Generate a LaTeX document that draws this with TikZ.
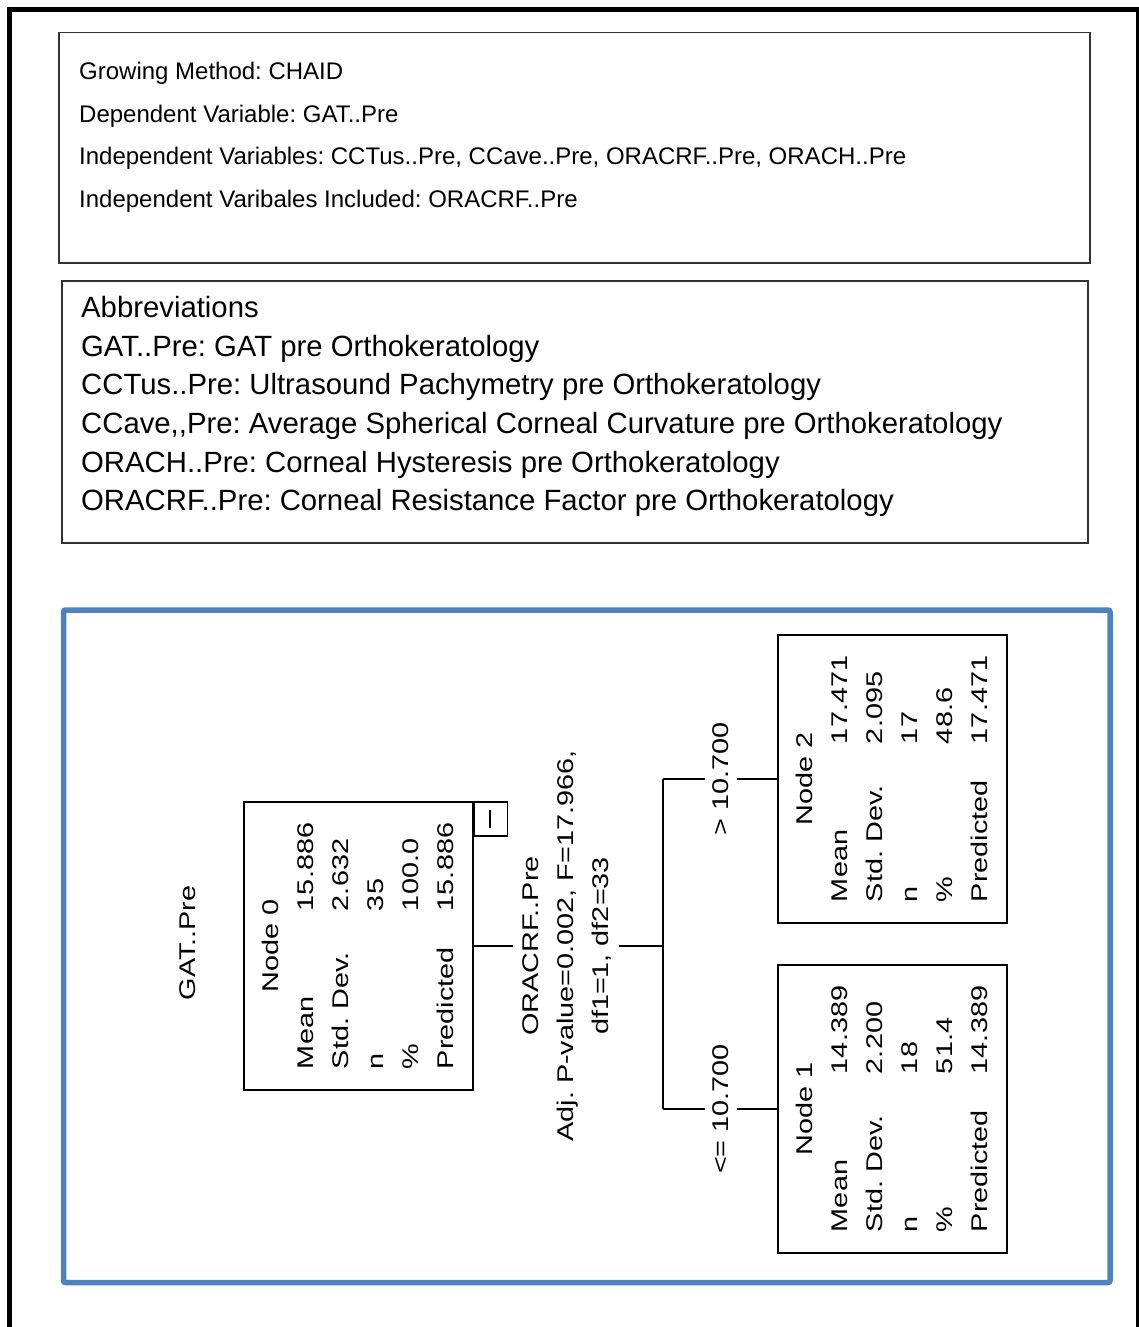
\documentclass[tikz,border=0pt]{standalone}
\usepackage{fontspec}
\setmainfont{Liberation Sans}
\newfontfamily\treefont[FakeStretch=1.27]{Liberation Sans}
\definecolor{frameblue}{RGB}{79,129,189}
\frenchspacing

% statistics block of a tree node: title, mean, sd, n, percent
\newcommand{\treestats}[5]{\rotatebox{90}{\begin{tabular}{@{}p{158pt}@{}p{88pt}@{}}
\multicolumn{2}{c}{#1}\\
Mean & #2\\
Std. Dev. & #3\\
n & #4\\
\% & #5\\
Predicted & #2
\end{tabular}}}

\tikzset{
  infobox/.style={draw=black!80, line width=1.5pt, anchor=north west, inner sep=0pt},
  infotext/.style={anchor=base west, inner sep=0pt, font=\fontsize{24}{28}\selectfont},
  abbrtext/.style={anchor=base west, inner sep=0pt, font=\fontsize{29.3}{34}\selectfont},
  treetext/.style={inner sep=0pt, font=\treefont\fontsize{22.7}{35}\selectfont},
  treebox/.style={treetext, draw, line width=1.5pt, minimum width=229pt, minimum height=288pt},
  branch/.style={line width=1.5pt},
}

\begin{document}
\begin{tikzpicture}[x=1pt, y=-1pt]
\useasboundingbox (0,0) rectangle (1139,1327);

% outer frame, open at the foot of the page
\begin{scope}
  \clip (0,0) rectangle (1139,1327);
  \draw[line width=5pt] (9.5,9.5) rectangle (1138.5,1400);
\end{scope}

% model summary
\node[infobox, minimum width=1031pt, minimum height=230pt] (info) at (58,32) {};
\node[infotext] (i1) at (79,80) {Growing Method: CHAID};
\node[infotext] (i2) at (79,122) {Dependent Variable: GAT..Pre};
\node[infotext] (i3) at (79,164.5) {Independent Variables: CCTus..Pre, CCave..Pre, ORACRF..Pre, ORACH..Pre};
\node[infotext] (i4) at (79,207) {Independent Varibales Included: ORACRF..Pre};

% abbreviations
\node[infobox, minimum width=1026pt, minimum height=262pt] (abbr) at (61,280) {};
\node[abbrtext] (a1) at (81,317) {Abbreviations};
\node[abbrtext] (a2) at (81,356) {GAT..Pre: GAT pre Orthokeratology};
\node[abbrtext] (a3) at (81,394.5) {CCTus..Pre: Ultrasound Pachymetry pre Orthokeratology};
\node[abbrtext] (a4) at (81,433) {CCave{,}{,}Pre: Average Spherical Corneal Curvature pre Orthokeratology};
\node[abbrtext] (a5) at (81,472) {ORACH..Pre: Corneal Hysteresis pre Orthokeratology};
\node[abbrtext] (a6) at (81,510.5) {ORACRF..Pre: Corneal Resistance Factor pre Orthokeratology};

% tree panel
\draw[frameblue, line width=5.5pt, rounded corners=2pt] (63.5,610) rectangle (1110,1282.5);

\node[treetext] (dep) at (188,943) {\rotatebox{90}{GAT..Pre}};

\node[treebox] (n0) at (358.5,946) {\treestats{Node 0}{15.886}{2.632}{35}{100.0}};
\node[treebox] (n2) at (892.5,779) {\treestats{Node 2}{17.471}{2.095}{17}{48.6}};
\node[treebox] (n1) at (892.5,1109) {\treestats{Node 1}{14.389}{2.200}{18}{51.4}};

% collapse toggle of the root node
\node[draw, line width=1.5pt, minimum width=33pt, minimum height=34pt, anchor=north west, inner sep=0pt] (toggle) at (n0.north east) {};
\draw[branch] (toggle.center) ++(-1,-9) -- ++(0,18);

% split description
\node[treetext, minimum width=105pt] (split) at (566,946)
  {\rotatebox{90}{\begin{tabular}{@{}c@{}}ORACRF..Pre\\Adj. P-value=0.002, F=17.966,\\df1=1, df2=33\end{tabular}}};

% branch labels
\node[treetext, minimum width=32pt] (gt) at (721,779) {\rotatebox{90}{> 10.700}};
\node[treetext, minimum width=32pt] (le) at (721,1109) {\rotatebox{90}{<= 10.700}};

% connectors
\coordinate (jn) at (663,946);
\coordinate (jn2) at (663,779);
\coordinate (jn1) at (663,1109);
\draw[branch] (n0.east) -- (split.west);
\draw[branch] (split.east) -- (jn);
\draw[branch] (jn2) -- (jn1);
\draw[branch] (jn2) -- (gt.west);
\draw[branch] (gt.east) -- (n2.west);
\draw[branch] (jn1) -- (le.west);
\draw[branch] (le.east) -- (n1.west);
\end{tikzpicture}
\end{document}
